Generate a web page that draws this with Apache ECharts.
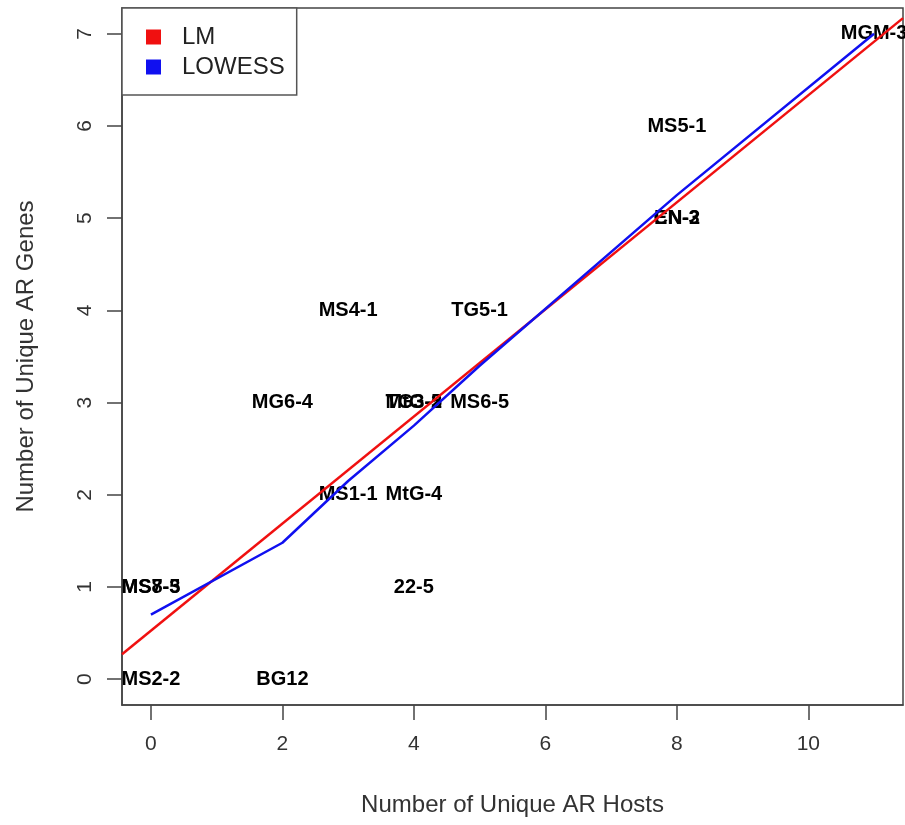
<!DOCTYPE html>
<html>
<head>
<meta charset="utf-8">
<script src="https://cdn.jsdelivr.net/npm/echarts@6/dist/echarts.min.js"></script>
<style>html,body{margin:0;padding:0;background:#fff;}#c{width:905px;height:825px;}</style>
</head>
<body>
<div id="c"></div>
<script>
// Data
const sampleNames = ['MS2-2','BG12','MS7-5','MS8-3','22-5','MS1-1','MtG-4','MG6-4','MtG-5','TG3-2','MS6-5','MS4-1','TG5-1','CN-2','EN-3','MS5-1','MGM-3'];
const uniqueHosts = [0, 2, 0, 0, 4, 3, 4, 2, 4, 4, 5, 3, 5, 8, 8, 8, 11];
const uniqueGenes = [0, 0, 1, 1, 1, 2, 2, 3, 3, 3, 3, 4, 4, 5, 5, 6, 7];
// LM (abline) endpoints at the plot edges
const lmX = [-0.44, 11.44];
const lmY = [0.27, 7.17];
// LOWESS fitted values at the unique host counts
const lowessX = [0, 2, 3, 4, 5, 8, 11];
const lowessY = [0.70, 1.48, 2.15, 2.75, 3.40, 5.25, 7.00];
const xTicks = [0, 2, 4, 6, 8, 10];
const yTicks = [0, 1, 2, 3, 4, 5, 6, 7];

const font = 'Liberation Sans, Arial, Helvetica, sans-serif';
const chart = echarts.init(document.getElementById('c'), null, {renderer: 'canvas'});
const labelData = sampleNames.map((n, i) => ({name: n, value: [uniqueHosts[i], uniqueGenes[i]]}));

chart.setOption({
  animation: false,
  backgroundColor: '#fff',
  grid: {left: 122, right: 2, top: 8, bottom: 120, show: true, borderColor: '#444', borderWidth: 1.5, backgroundColor: 'transparent'},
  legend: {
    left: 122, top: 8, orient: 'vertical',
    data: [{name: 'LM', icon: 'rect'}, {name: 'LOWESS', icon: 'rect'}],
    itemWidth: 15, itemHeight: 15, itemGap: 6,
    padding: [17, 12, 16, 24],
    borderColor: '#555', borderWidth: 1.5, backgroundColor: '#fff',
    textStyle: {fontFamily: font, fontSize: 24, color: '#222', lineHeight: 24, padding: [0, 0, 0, 16]},
    selectedMode: false
  },
  xAxis: {
    type: 'value', min: -0.44, max: 11.44,
    name: 'Number of Unique AR Hosts', nameLocation: 'middle', nameGap: 88,
    nameTextStyle: {fontFamily: font, fontSize: 24, color: '#333'},
    axisLine: {show: true, onZero: false, lineStyle: {color: '#444', width: 1.5}},
    axisTick: {show: true, inside: false, length: 15, customValues: xTicks, lineStyle: {color: '#444', width: 1.5}},
    axisLabel: {customValues: xTicks, margin: 29, fontFamily: font, fontSize: 21, color: '#333'},
    splitLine: {show: false}
  },
  yAxis: {
    type: 'value', min: -0.28, max: 7.28,
    name: 'Number of Unique AR Genes', nameLocation: 'middle', nameGap: 84, nameRotate: 90,
    nameTextStyle: {fontFamily: font, fontSize: 24, color: '#333'},
    axisLine: {show: true, onZero: false, lineStyle: {color: '#444', width: 1.5}},
    axisTick: {show: true, inside: false, length: 15, customValues: yTicks, lineStyle: {color: '#444', width: 1.5}},
    axisLabel: {customValues: yTicks, rotate: 90, margin: 26, fontFamily: font, fontSize: 21, color: '#333'},
    splitLine: {show: false}
  },
  series: [
    {
      type: 'scatter', name: 'labels', data: labelData, symbol: 'circle', symbolSize: 0,
      itemStyle: {color: '#000', opacity: 1}, z: 2, silent: true,
      label: {show: true, position: 'inside', formatter: p => p.name, fontFamily: font, fontWeight: 'bold', fontSize: 20, color: '#000', textBorderWidth: 0, opacity: 1}
    },
    {
      type: 'line', name: 'LM', data: lmX.map((x, i) => [x, lmY[i]]), showSymbol: false, symbol: 'none',
      lineStyle: {color: '#f01010', width: 2.5}, itemStyle: {color: '#f01010'}, z: 3
    },
    {
      type: 'line', name: 'LOWESS', data: lowessX.map((x, i) => [x, lowessY[i]]), showSymbol: false, symbol: 'none',
      lineStyle: {color: '#1010f0', width: 2.5}, itemStyle: {color: '#1010f0'}, z: 4
    }
  ]
});
</script>
</body>
</html>
